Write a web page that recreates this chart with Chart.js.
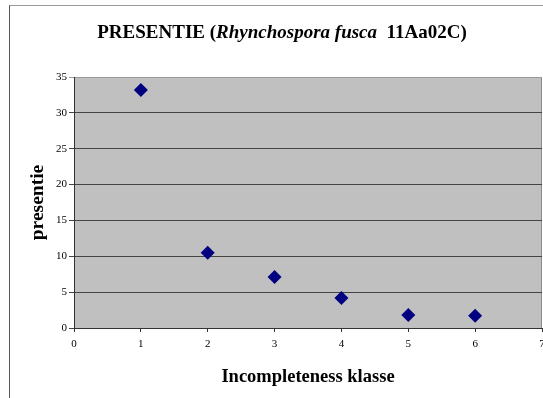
<!DOCTYPE html>
<html>
<head>
<meta charset="utf-8">
<script src="https://cdn.jsdelivr.net/npm/chart.js@4/dist/chart.umd.min.js"></script>
<style>
    body { margin: 0; background: #fff; }
    #wrap { position: relative; width: 543px; height: 398px; overflow: hidden; }
    #frame { position: absolute; left: 9px; top: 5px; width: 600px; height: 500px;
             border-left: 1px solid #555; border-top: 1px solid #999; }
    #chart { position: absolute; left: 0; top: 0; }
</style>
</head>
<body>
<div id="wrap">
    <div id="frame"></div>
    <canvas id="chart" width="543" height="398"></canvas>
</div>
<script>
// Gegevens uit de grafiek
const klasse = [1, 2, 3, 4, 5, 6];
const presentie = [33.2, 10.5, 7.1, 4.2, 1.8, 1.7];
const titleParts = [
    { text: 'PRESENTIE (', italic: false },
    { text: 'Rhynchospora fusca', italic: true },
    { text: '  11Aa02C)', italic: false }
];

const serif = '"Liberation Serif", "Times New Roman", serif';

// titel met gemengde stijl (cursief deel)
const titlePlugin = {
    id: 'mixedTitle',
    afterDraw(chart) {
        const ctx = chart.ctx;
        ctx.save();
        ctx.fillStyle = '#000';
        ctx.textBaseline = 'alphabetic';
        let total = 0;
        titleParts.forEach(p => {
            ctx.font = (p.italic ? 'italic ' : '') + 'bold 19px ' + serif;
            p.w = ctx.measureText(p.text).width;
            total += p.w;
        });
        let x = 282 - total / 2;
        titleParts.forEach(p => {
            ctx.font = (p.italic ? 'italic ' : '') + 'bold 19px ' + serif;
            ctx.fillText(p.text, x, 38);
            x += p.w;
        });
        ctx.restore();
    }
};

// grijze achtergrond van het plotgebied
const plotBg = {
    id: 'plotBg',
    beforeDraw(chart) {
        const { ctx, chartArea: a } = chart;
        ctx.save();
        ctx.fillStyle = '#c0c0c0';
        ctx.fillRect(a.left, a.top, a.right - a.left, a.bottom - a.top);
        ctx.strokeStyle = '#8a8a8a';
        ctx.lineWidth = 1;
        ctx.beginPath();
        ctx.moveTo(a.right - 0.5, a.top);
        ctx.lineTo(a.right - 0.5, a.bottom);
        ctx.stroke();
        ctx.restore();
    }
};

const ctx = document.getElementById('chart').getContext('2d');
new Chart(ctx, {
    type: 'scatter',
    data: {
        datasets: [{
            label: 'presentie',
            data: klasse.map((k, i) => ({ x: k, y: presentie[i] })),
            pointStyle: 'rectRot',
            pointRadius: 7,
            pointBorderWidth: 0,
            backgroundColor: '#000080',
            borderColor: '#000080'
        }]
    },
    options: {
        responsive: false,
        animation: false,
        layout: { autoPadding: false, padding: { top: 77, right: 1, left: 0, bottom: 0 } },
        plugins: {
            legend: { display: false },
            tooltip: { enabled: false }
        },
        scales: {
            x: {
                min: 0, max: 7,
                afterFit: s => { s.height = 70; s.paddingLeft = 0; s.paddingRight = 0; },
                ticks: { stepSize: 1, color: '#000', padding: 6, font: { family: serif, size: 11 } },
                grid: { drawOnChartArea: false, tickLength: 4, color: '#333' },
                border: { color: '#333', width: 1 },
                title: {
                    display: true, text: 'Incompleteness klasse', color: '#000',
                    font: { family: serif, size: 18.5, weight: 'bold' },
                    padding: { top: 0, bottom: 10 }
                }
            },
            y: {
                min: 0, max: 35,
                afterFit: s => { s.width = 74; s.paddingTop = 0; s.paddingBottom = 0; },
                ticks: { stepSize: 5, color: '#000', padding: 2, font: { family: serif, size: 11 } },
                grid: {
                    tickLength: 5,
                    color: c => (c.tick && c.tick.value === 35) ? '#999' : '#444'
                },
                border: { color: '#333', width: 1 },
                title: {
                    display: true, text: 'presentie', color: '#000',
                    font: { family: serif, size: 19.5, weight: 'bold' },
                    padding: { top: 26, bottom: 0 }
                }
            }
        }
    },
    plugins: [plotBg, titlePlugin]
});
</script>
</body>
</html>
